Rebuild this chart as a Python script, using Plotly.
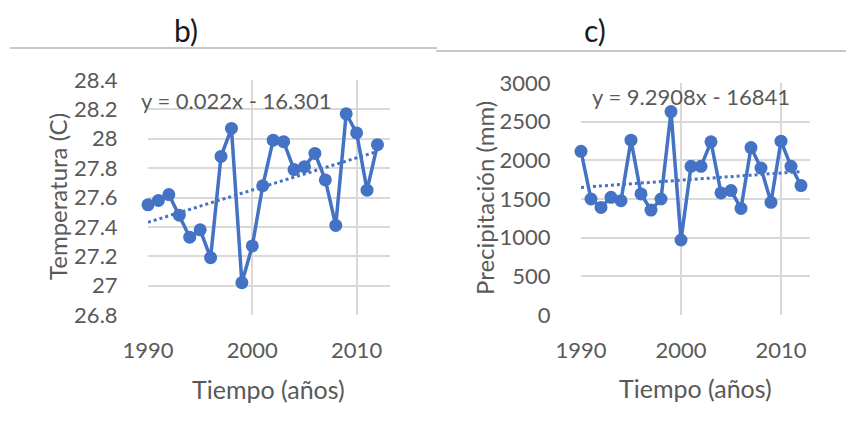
import numpy as np
import plotly.graph_objects as go

W, H = 846, 432

years = list(range(1990, 2013))
temperatura = [27.55, 27.58, 27.62, 27.48, 27.33, 27.38, 27.19, 27.88, 28.07, 27.02,
               27.27, 27.68, 27.99, 27.98, 27.79, 27.81, 27.90, 27.72, 27.41, 28.17,
               28.04, 27.65, 27.96]
precipitacion = [2117, 1500, 1391, 1522, 1478, 2261, 1565, 1357, 1500, 2630,
                 970, 1922, 1922, 2239, 1578, 1609, 1378, 2165, 1900, 1457,
                 2248, 1922, 1674]
eq_temp = "y = 0.022x - 16.301"
eq_prec = "y = 9.2908x - 16841"
x_ticks = [1990, 2000, 2010]

BLUE = "#4472C4"
GRAY_T = "#595959"
GRID = "#d9d9d9"
FONT = "Lato"

def px_x(p):
    return p / W

def px_y(p):
    return 1 - p / H

yrs = np.array(years, dtype=float)
ct = np.polyfit(yrs, np.array(temperatura), 1)
cp = np.polyfit(yrs, np.array(precipitacion), 1)
trend_t = list(np.polyval(ct, yrs))
trend_p = list(np.polyval(cp, yrs))

fig = go.Figure()

fig.add_trace(go.Scatter(x=years, y=trend_t, mode="lines",
                         line=dict(color=BLUE, width=3, dash="dot"),
                         xaxis="x", yaxis="y", showlegend=False, hoverinfo="skip",
                         cliponaxis=False))
fig.add_trace(go.Scatter(x=years, y=temperatura, mode="lines+markers",
                         line=dict(color=BLUE, width=3.5),
                         marker=dict(color=BLUE, size=13),
                         xaxis="x", yaxis="y", showlegend=False, cliponaxis=False))
fig.add_trace(go.Scatter(x=years, y=trend_p, mode="lines",
                         line=dict(color=BLUE, width=3, dash="dot"),
                         xaxis="x2", yaxis="y2", showlegend=False, hoverinfo="skip",
                         cliponaxis=False))
fig.add_trace(go.Scatter(x=years, y=precipitacion, mode="lines+markers",
                         line=dict(color=BLUE, width=3.5),
                         marker=dict(color=BLUE, size=13),
                         xaxis="x2", yaxis="y2", showlegend=False, cliponaxis=False))

tickfont = dict(family=FONT, size=22, color=GRAY_T)

common_x = dict(tickmode="array", tickvals=x_ticks, showgrid=True, gridcolor=GRID,
                gridwidth=2, zeroline=False, showline=False, ticks="outside",
                ticklen=16, tickcolor="rgba(0,0,0,0)", tickfont=tickfont,
                automargin=False)
common_y = dict(showgrid=True, gridcolor=GRID, gridwidth=2, zeroline=False,
                showline=False, ticks="outside", ticklen=25,
                tickcolor="rgba(0,0,0,0)", tickfont=tickfont, automargin=False)

fig.update_layout(
    width=W, height=H,
    margin=dict(l=0, r=0, t=0, b=0, pad=0),
    paper_bgcolor="white", plot_bgcolor="white",
    xaxis=dict(domain=[px_x(148), px_x(390)], range=[1990, 2013.2],
               anchor="y", **common_x),
    yaxis=dict(domain=[px_y(315), px_y(80)], range=[26.8, 28.4], dtick=0.2,
               tick0=26.8, anchor="x", **common_y),
    xaxis2=dict(domain=[px_x(581), px_x(810)], range=[1990, 2012.9],
                anchor="y2", **common_x),
    yaxis2=dict(domain=[px_y(315), px_y(83)], range=[0, 3000], dtick=500,
                anchor="x2", **common_y),
)

ann = []
def add_text(text, x, y, size, color, angle=0):
    ann.append(dict(text=text, x=px_x(x), y=px_y(y), xref="paper", yref="paper",
                    showarrow=False, xanchor="center", yanchor="middle",
                    textangle=angle, font=dict(family=FONT, size=size, color=color)))

add_text("b)", 186, 30, 30, "#1a1a1a")
add_text("c)", 595, 30, 30, "#1a1a1a")
add_text("Temperatura (C)", 57, 197, 24, GRAY_T, -90)
add_text("Precipitación (mm)", 485, 198, 24, GRAY_T, -90)
add_text("Tiempo (años)", 268, 389, 25, GRAY_T)
add_text("Tiempo (años)", 695, 388, 25, GRAY_T)
add_text(eq_temp, 236, 100, 22, GRAY_T)
add_text(eq_prec, 691, 97, 22, GRAY_T)
fig.update_layout(annotations=ann)

fig.update_layout(shapes=[
    dict(type="line", xref="paper", yref="paper", x0=px_x(10), x1=px_x(437),
         y0=px_y(48), y1=px_y(48), line=dict(color="#c8c8c8", width=2)),
    dict(type="line", xref="paper", yref="paper", x0=px_x(436), x1=px_x(846),
         y0=px_y(51), y1=px_y(51), line=dict(color="#c8c8c8", width=2)),
])

fig.write_html("out.html",
               config={"displayModeBar": False},
               post_script="document.body.style.margin='0px';document.body.style.overflow='hidden';")
